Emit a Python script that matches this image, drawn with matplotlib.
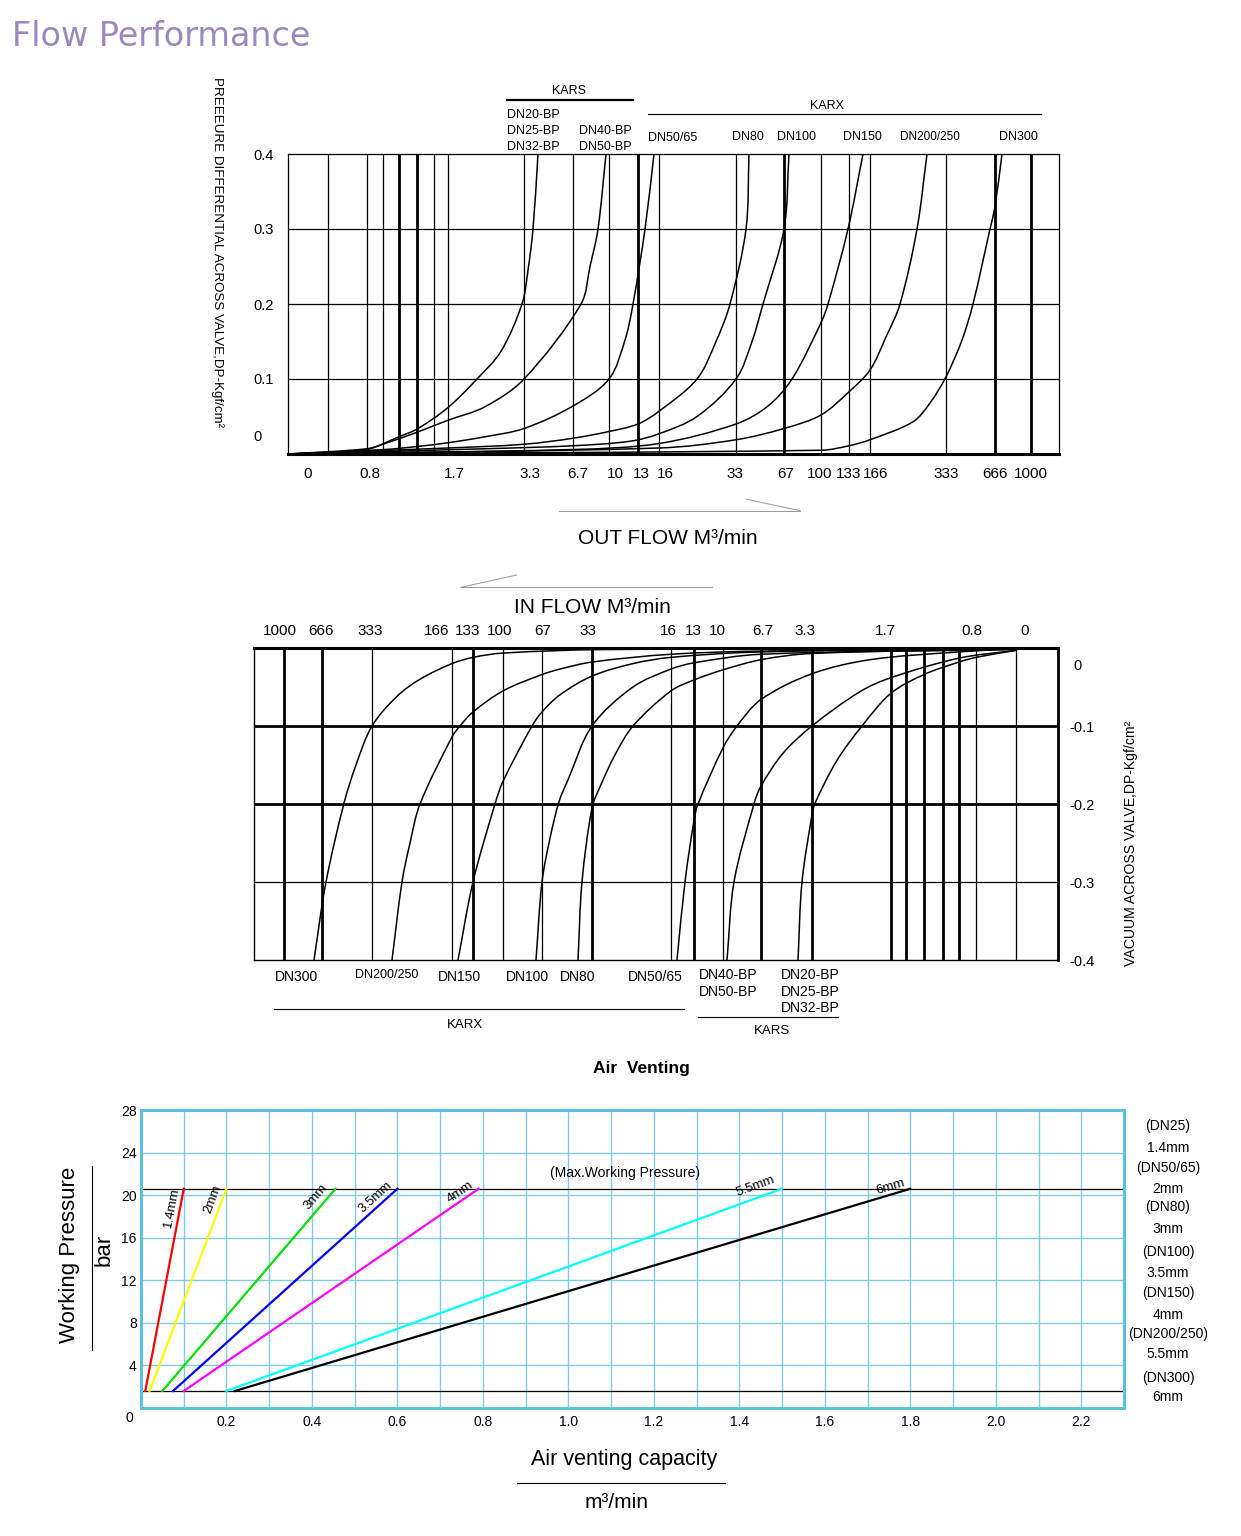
import math
import numpy as np
import matplotlib
matplotlib.use("Agg")
import matplotlib.pyplot as plt
from matplotlib.lines import Line2D
from matplotlib.path import Path
from matplotlib.patches import PathPatch

# ===================== DATA =====================
# --- Top chart: OUT FLOW. x = position along the printed (non-uniform) flow scale, chart units
out_flow_labels = ["0", "0.8", "1.7", "3.3", "6.7", "10", "13", "16", "33", "67",
                   "100", "133", "166", "333", "666", "1000"]
out_flow_label_pos = [20, 82, 166, 242, 290, 327, 353, 377, 447, 498,
                      532, 561, 588, 658, 707, 743]
out_grid_thin = [40, 79, 95, 146, 160, 236, 285, 321, 371, 448, 533, 561, 582, 658]
out_grid_thick = [111, 129, 350, 496, 707, 743]
out_dp_ticks = [0.1, 0.2, 0.3, 0.4]
out_dp_labels = ["0.1", "0.2", "0.3", "0.4"]

out_kars_20_32_x = [0, 40, 79, 111, 130, 160, 189, 213, 234, 240, 245, 250]
out_kars_20_32_y = [0, .002, .006, .023, .034, .062, .100, .137, .200, .245, .300, .400]
out_kars_40_50_x = [0, 79, 97, 129, 160, 197, 236, 293, 302, 310, 318]
out_kars_40_50_y = [0, .007, .014, .029, .045, .063, .100, .200, .250, .300, .400]
out_dn50_65_x = [0, 97, 129, 160, 197, 236, 285, 321, 337, 345, 357, 366]
out_dn50_65_y = [0, .006, .010, .015, .023, .034, .064, .100, .152, .200, .300, .400]
out_dn80_x = [0, 160, 236, 285, 321, 350, 371, 409, 428, 442, 458, 461]
out_dn80_y = [0, .008, .013, .021, .030, .040, .057, .100, .150, .200, .300, .400]
out_dn100_x = [0, 197, 285, 342, 371, 409, 448, 464, 475, 496, 501]
out_dn100_y = [0, .007, .011, .017, .027, .050, .100, .150, .200, .300, .400]
out_dn150_x = [0, 285, 371, 448, 480, 504, 533, 540, 560, 575]
out_dn150_y = [0, .006, .014, .040, .064, .100, .175, .200, .300, .400]
out_dn200_x = [0, 371, 448, 496, 533, 561, 582, 598, 612, 629, 639]
out_dn200_y = [0, .008, .019, .034, .052, .083, .112, .156, .200, .300, .400]
out_dn300_x = [0, 533, 561, 582, 625, 642, 658, 674, 685, 702, 707, 714]
out_dn300_y = [0, .005, .011, .019, .043, .068, .103, .152, .200, .300, .330, .400]

# --- Middle chart: IN FLOW (vacuum). x = position along the printed flow scale
in_flow_labels = ["1000", "666", "333", "166", "133", "100", "67", "33", "16", "13",
                  "10", "6.7", "3.3", "1.7", "0.8", "0"]
in_flow_label_pos = [26, 67, 116, 183, 214, 246, 289, 334, 414, 439,
                     463, 509, 551, 631, 718, 771]
in_grid_thin = [118, 198, 249, 288, 417, 469, 722, 762]
in_grid_thick = [30, 68, 219, 338, 440, 507, 558, 637, 652, 670, 689, 705]
in_dp_ticks = [-0.1, -0.2, -0.3, -0.4]
in_dp_labels = ["-0.1", "-0.2", "-0.3", "-0.4"]

in_dn300_x = [60, 72, 90, 102, 118, 143, 166, 198, 219, 249, 350, 762]
in_dn300_y = [-0.4, -0.300, -0.199, -0.150, -0.100, -0.062, -0.040, -0.020,
              -0.012, -0.0065, -0.002, -0.001]
in_dn200_x = [138, 148, 156, 166, 198, 206, 219, 249, 288, 306, 338, 417, 507, 762]
in_dn200_y = [-0.4, -0.300, -0.250, -0.200, -0.114, -0.100, -0.082, -0.055, -0.034,
              -0.027, -0.018, -0.008, -0.004, -0.001]
in_dn150_x = [204, 219, 241, 249, 278, 288, 306, 338, 379, 417, 507, 762]
in_dn150_y = [-0.4, -0.300, -0.200, -0.171, -0.100, -0.082, -0.060, -0.036, -0.020,
              -0.012, -0.005, -0.001]
in_dn100_x = [282, 288, 296, 305, 314, 338, 379, 417, 440, 507, 762]
in_dn100_y = [-0.4, -0.300, -0.244, -0.197, -0.169, -0.100, -0.050, -0.027, -0.019,
              -0.008, -0.002]
in_dn80_x = [324, 328, 338, 346, 361, 379, 417, 440, 469, 507, 558, 762]
in_dn80_y = [-0.4, -0.300, -0.205, -0.178, -0.137, -0.100, -0.055, -0.041, -0.028,
             -0.015, -0.007, -0.001]
in_dn50_65_x = [423, 431, 440, 444, 469, 483, 507, 558, 616, 705, 762]
in_dn50_65_y = [-0.4, -0.300, -0.221, -0.200, -0.128, -0.100, -0.066, -0.033, -0.015,
                -0.005, -0.001]
in_kars_40_50_x = [473, 480, 500, 507, 529, 558, 606, 637, 705, 762]
in_kars_40_50_y = [-0.4, -0.300, -0.200, -0.177, -0.135, -0.100, -0.056, -0.038,
                   -0.013, -0.003]
in_kars_20_32_x = [544, 548, 558, 561, 583, 608, 637, 670, 705, 722, 762]
in_kars_20_32_y = [-0.4, -0.300, -0.214, -0.199, -0.144, -0.100, -0.058, -0.034,
                   -0.018, -0.012, -0.003]

# --- Bottom chart: Air venting
vent_orifices = ["1.4mm", "2mm", "3mm", "3.5mm", "4mm", "5.5mm", "6mm"]
vent_colors = ["#ff0000", "#ffff00", "#00e000", "#0000ff", "#ff00ff", "#00ffff", "#000000"]
vent_q_low = [0.01, 0.02, 0.05, 0.075, 0.10, 0.20, 0.22]
vent_q_high = [0.10, 0.20, 0.455, 0.60, 0.79, 1.50, 1.80]
vent_p_low = 1.6
vent_p_max = 20.6
vent_label_q = [0.072, 0.168, 0.408, 0.548, 0.746, 1.438, 1.754]
vent_label_p = [18.8, 19.6, 19.8, 19.8, 20.3, 20.8, 20.8]
vent_q_ticks = [0.2, 0.4, 0.6, 0.8, 1.0, 1.2, 1.4, 1.6, 1.8, 2.0, 2.2]
vent_q_tick_labels = ["0.2", "0.4", "0.6", "0.8", "1.0", "1.2", "1.4", "1.6", "1.8", "2.0", "2.2"]
vent_p_ticks = [4, 8, 12, 16, 20, 24, 28]
vent_side_labels = ["(DN25)", "1.4mm", "(DN50/65)", "2mm", "(DN80)", "3mm", "(DN100)",
                    "3.5mm", "(DN150)", "4mm", "(DN200/250)", "5.5mm", "(DN300)", "6mm"]

# ===================== FIGURE =====================
plt.rcParams['font.family'] = ['Liberation Sans', 'DejaVu Sans']
W, H = 1241, 1536
fig = plt.figure(figsize=(W / 100, H / 100), dpi=100)
fig.patch.set_facecolor('white')


def fbox(l, t, r, b):
    return [l / W, 1 - b / H, (r - l) / W, (b - t) / H]


def ftext(x, y, s, size, **kw):
    kw.setdefault('ha', 'center')
    kw.setdefault('va', 'center')
    fig.text(x / W, 1 - y / H, s, fontsize=size, **kw)


def fline(x0, y0, x1, y1, lw=1.0, color='black'):
    fig.add_artist(Line2D([x0 / W, x1 / W], [1 - y0 / H, 1 - y1 / H], lw=lw,
                          color=color, transform=fig.transFigure))


def smooth_curve(ax, xs, ys, **kw):
    """Draw a smooth line through the read points (Bezier path through every point)."""
    P = ax.transData.transform(np.column_stack([xs, ys]))
    n = len(P)
    d = np.maximum(np.linalg.norm(np.diff(P, axis=0), axis=1), 1e-6)
    m = np.zeros_like(P)
    m[0] = (P[1] - P[0]) / d[0]
    m[-1] = (P[-1] - P[-2]) / d[-1]
    for i in range(1, n - 1):
        m[i] = (P[i + 1] - P[i - 1]) / (d[i - 1] + d[i])
    verts = [P[0]]
    codes = [Path.MOVETO]
    for i in range(n - 1):
        verts += [P[i] + m[i] * d[i] / 3, P[i + 1] - m[i + 1] * d[i] / 3, P[i + 1]]
        codes += [Path.CURVE4] * 3
    V = ax.transData.inverted().transform(np.array(verts))
    ax.add_patch(PathPatch(Path(V, codes), fill=False, **kw))


# Title
ftext(12, 36, "Flow Performance", 24, ha='left', color='#9b88c0',
      family=['DejaVu Sans'])

# ---------------- Top chart ----------------
ax1 = fig.add_axes(fbox(288, 154, 1059, 454))
ax1.set_xlim(0, 771)
ax1.set_ylim(0, 0.4)
for x in out_grid_thin:
    ax1.axvline(x, color='black', lw=0.9, zorder=1)
for x in out_grid_thick:
    ax1.axvline(x, color='black', lw=2.0, zorder=1)
for y in [0.1, 0.2, 0.3]:
    ax1.axhline(y, color='black', lw=0.9, zorder=1)
out_curves = [(out_kars_20_32_x, out_kars_20_32_y), (out_kars_40_50_x, out_kars_40_50_y),
              (out_dn50_65_x, out_dn50_65_y), (out_dn80_x, out_dn80_y),
              (out_dn100_x, out_dn100_y), (out_dn150_x, out_dn150_y),
              (out_dn200_x, out_dn200_y), (out_dn300_x, out_dn300_y)]
for xs, ys in out_curves:
    smooth_curve(ax1, xs, ys, edgecolor='black', lw=1.1, zorder=2)
ax1.set_xticks(out_flow_label_pos, out_flow_labels)
ax1.set_yticks(out_dp_ticks, out_dp_labels)
ax1.tick_params(axis='x', length=0, labelsize=11, pad=9)
ax1.tick_params(axis='y', length=0, labelsize=10.5, pad=10)
for s in ['top', 'left', 'right']:
    ax1.spines[s].set_linewidth(0.9)
ax1.spines['bottom'].set_linewidth(2.2)
ftext(258, 437, "0", 10.5)
ftext(217, 252, "PREEEURE DIFFERENTIAL ACROSS VALVE,DP-Kgf/cm²", 9.6, rotation=270)

# header of top chart
ftext(569, 91, "KARS", 9)
fline(507, 100, 633, 100, lw=1.6)
ftext(827, 106, "KARX", 9)
fline(648, 114, 1041, 114, lw=0.8)
ftext(507, 115, "DN20-BP", 9, ha='left')
ftext(507, 131, "DN25-BP", 9, ha='left')
ftext(507, 147, "DN32-BP", 9, ha='left')
ftext(579, 131, "DN40-BP", 9, ha='left')
ftext(579, 147, "DN50-BP", 9, ha='left')
ftext(673, 138, "DN50/65", 9)
ftext(748, 137, "DN80", 9)
ftext(797, 137, "DN100", 9)
ftext(862, 137, "DN150", 9)
ftext(930, 137, "DN200/250", 8.5)
ftext(1018, 137, "DN300", 9)

# flow captions
ftext(668, 538, "OUT FLOW M³/min", 15)
fline(559, 510.7, 800, 510.7, lw=0.7, color='#999999')
fline(746.7, 499.3, 800, 510.7, lw=0.7, color='#999999')
ftext(592, 607, "IN FLOW M³/min", 15)
fline(461, 587.3, 711.7, 587.3, lw=0.7, color='#999999')
fline(461, 587.3, 516.7, 575, lw=0.7, color='#999999')

# ---------------- Middle chart ----------------
ax2 = fig.add_axes(fbox(254, 648, 1058, 960))
ax2.set_xlim(0, 804)
ax2.set_ylim(-0.4, 0)
for x in in_grid_thin:
    ax2.axvline(x, color='black', lw=0.9, zorder=1)
for x in in_grid_thick:
    ax2.axvline(x, color='black', lw=2.0, zorder=1)
ax2.axhline(-0.1, color='black', lw=2.0, zorder=1)
ax2.axhline(-0.2, color='black', lw=2.0, zorder=1)
ax2.axhline(-0.3, color='black', lw=0.9, zorder=1)
in_curves = [(in_dn300_x, in_dn300_y), (in_dn200_x, in_dn200_y), (in_dn150_x, in_dn150_y),
             (in_dn100_x, in_dn100_y), (in_dn80_x, in_dn80_y), (in_dn50_65_x, in_dn50_65_y),
             (in_kars_40_50_x, in_kars_40_50_y), (in_kars_20_32_x, in_kars_20_32_y)]
for xs, ys in in_curves:
    smooth_curve(ax2, xs, ys, edgecolor='black', lw=1.1, zorder=2)
ax2.xaxis.tick_top()
ax2.yaxis.tick_right()
ax2.set_xticks(in_flow_label_pos, in_flow_labels)
ax2.set_yticks(in_dp_ticks, in_dp_labels)
ax2.tick_params(axis='x', length=0, labelsize=11, pad=7)
ax2.tick_params(axis='y', length=0, labelsize=10.5, pad=8)
ax2.spines['top'].set_linewidth(2.2)
ax2.spines['right'].set_linewidth(2.0)
ax2.spines['left'].set_linewidth(1.0)
ax2.spines['bottom'].set_linewidth(1.0)
ftext(1077, 666, "0", 10.5)
ftext(1131, 843, "VACUUM ACROSS VALVE,DP-Kgf/cm²", 10.1, rotation=90)

# labels below middle chart
ftext(297, 977, "DN300", 10)
ftext(387, 975, "DN200/250", 9)
ftext(459, 977, "DN150", 10)
ftext(527, 977, "DN100", 10)
ftext(578, 977, "DN80", 10)
ftext(655, 977, "DN50/65", 10)
ftext(699, 975, "DN40-BP", 10, ha='left')
ftext(699, 992, "DN50-BP", 10, ha='left')
ftext(781, 975, "DN20-BP", 10, ha='left')
ftext(781, 992, "DN25-BP", 10, ha='left')
ftext(781, 1008, "DN32-BP", 10, ha='left')
fline(274, 1009, 684, 1009, lw=0.8)
ftext(465, 1025, "KARX", 9.5)
fline(698, 1017, 838, 1017, lw=0.8)
ftext(772, 1031, "KARS", 9.5)

# ---------------- Bottom chart ----------------
ftext(641, 1069, "Air  Venting", 12.5, weight='bold')
ax3 = fig.add_axes(fbox(141, 1110, 1124, 1408))
ax3.set_xlim(0, 2.3)
ax3.set_ylim(0, 28)
grid_c = '#80cbe6'
for i in range(1, 23):
    ax3.axvline(i * 0.1, color=grid_c, lw=1.0, zorder=1)
for p in vent_p_ticks[:-1]:
    ax3.axhline(p, color=grid_c, lw=1.0, zorder=1)
ax3.axhline(vent_p_max, color='black', lw=0.9, zorder=2)
ax3.axhline(vent_p_low, color='black', lw=0.9, zorder=2)
for name, c, ql, qh, lq, lp in zip(vent_orifices, vent_colors, vent_q_low, vent_q_high,
                                    vent_label_q, vent_label_p):
    ax3.plot([ql, qh], [vent_p_low, vent_p_max], color=c, lw=1.6, zorder=3)
    p0 = ax3.transData.transform((ql, vent_p_low))
    p1 = ax3.transData.transform((qh, vent_p_max))
    ang = math.degrees(math.atan2(p1[1] - p0[1], p1[0] - p0[0]))
    ax3.text(lq, lp, name, rotation=ang, rotation_mode='anchor', ha='center',
             va='center', fontsize=9.5, zorder=4)
ax3.text(1.132, 22.1, "(Max.Working Pressure)", fontsize=10, ha='center', va='center')
ax3.set_xticks(vent_q_ticks, vent_q_tick_labels)
ax3.set_yticks(vent_p_ticks, [str(p) for p in vent_p_ticks])
ax3.tick_params(axis='x', length=0, labelsize=10, pad=5)
ax3.tick_params(axis='y', length=0, labelsize=10, pad=3)
for s in ax3.spines.values():
    s.set_color('#5bbfdf')
    s.set_linewidth(2.2)
ftext(129, 1418, "0", 10)

side_y = [1126, 1148, 1168, 1189, 1207, 1229, 1252, 1273, 1293, 1315, 1334, 1354, 1378, 1397]
for s, yy in zip(vent_side_labels, side_y):
    ftext(1168, yy, s, 10)

ftext(70, 1255, "Working Pressure", 16, rotation=90)
fline(92, 1166, 92, 1350, lw=0.8)
ftext(104, 1250, "bar", 16, rotation=90)
ftext(624, 1460, "Air venting capacity", 15.5)
fline(517, 1483, 725, 1483, lw=0.8)
ftext(617, 1503, "m³/min", 15)

fig.savefig("out.png", dpi=100, facecolor='white')
